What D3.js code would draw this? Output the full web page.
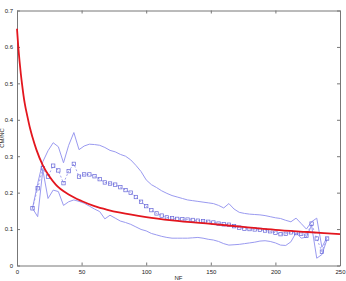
<!DOCTYPE html>
<html>
<head>
<meta charset="utf-8">
<script src="https://cdn.jsdelivr.net/npm/d3@7"></script>
<style>
body { margin:0; background:#fff; }
text { font-family: "Liberation Sans", Arial, sans-serif; }
</style>
</head>
<body>
<svg id="svg"></svg>
<script>
var Marge = {top:10.5, right:6, bottom:15.5, left:17};
var W = 346, H = 281;
var plotW = W - Marge.left - Marge.right, plotH = H - Marge.top - Marge.bottom;

// sample positions (NF) for the blue series
var nf = [12,16,20,24,28,32,36,40,44,48,52,56,60,64,68,72,76,80,84,88,92,96,100,104,108,112,116,120,
  124,128,132,136,140,144,148,152,156,160,164,168,172,176,180,184,188,192,196,200,204,208,212,216,220,224,228,232,236,240];
var meanVals = [0.157,0.212,0.267,0.244,0.274,0.261,0.226,0.259,0.279,0.244,0.25,0.25,0.245,0.237,0.228,0.225,0.222,0.215,0.207,0.200,0.188,0.175,0.163,0.152,0.143,0.137,0.132,0.130,
  0.128,0.127,0.126,0.125,0.123,0.122,0.120,0.118,0.115,0.113,0.112,0.108,0.104,0.101,0.100,0.099,0.098,0.096,0.094,0.090,0.086,0.087,0.091,0.089,0.087,0.082,0.115,0.074,0.038,0.074];
var upperVals = [0.157,0.225,0.285,0.315,0.337,0.326,0.282,0.33,0.365,0.318,0.328,0.333,0.332,0.33,0.324,0.316,0.312,0.305,0.300,0.290,0.275,0.258,0.235,0.222,0.214,0.205,0.198,0.192,
  0.188,0.184,0.180,0.178,0.176,0.174,0.172,0.170,0.165,0.158,0.170,0.155,0.146,0.143,0.141,0.140,0.139,0.137,0.134,0.131,0.129,0.124,0.120,0.130,0.115,0.100,0.120,0.130,0.050,0.078];
var lowerVals = [0.157,0.134,0.262,0.184,0.207,0.203,0.165,0.175,0.180,0.176,0.171,0.163,0.155,0.148,0.128,0.138,0.130,0.122,0.118,0.113,0.106,0.099,0.095,0.088,0.084,0.080,0.077,0.075,
  0.075,0.075,0.075,0.076,0.077,0.075,0.072,0.070,0.066,0.060,0.056,0.057,0.058,0.060,0.062,0.064,0.067,0.068,0.066,0.062,0.056,0.055,0.065,0.090,0.075,0.078,0.110,0.020,0.030,0.072];

// red fitted curve
var fitX = [0,1,2,3,4,5,6,8,10,12,15,20,25,30,40,50,60,70,80,100,120,150,175,200,225,250];
var fitY = [0.65,0.60,0.56,0.525,0.495,0.468,0.445,0.41,0.378,0.352,0.318,0.275,0.245,0.222,0.195,0.177,0.163,0.153,0.145,0.133,0.124,0.114,0.106,0.098,0.092,0.086];

var xTicks = [0,50,100,150,200,250];
var yTicks = [0,0.1,0.2,0.3,0.4,0.5,0.6,0.7];

var svg = d3.select("#svg").attr("width",W).attr("height",H);
var g = svg.append("g").attr("transform","translate("+Marge.left+","+Marge.top+")");

var x_scale = d3.scaleLinear().domain([0,250]).range([0,plotW]);
var y_scale = d3.scaleLinear().domain([0,0.7]).range([plotH,0]);

// axes (ticks inward, mirrored on top/right)
function styleAxis(sel){
  sel.select(".domain").attr("stroke","#777");
  sel.selectAll(".tick line").attr("stroke","#777");
  sel.selectAll("text").attr("font-size","6px").attr("fill","#222");
}
g.append("g").attr("transform","translate(0,"+plotH+")")
  .call(d3.axisBottom(x_scale).tickValues(xTicks).tickFormat(d3.format("d")).tickSizeInner(-3).tickSizeOuter(0).tickPadding(4))
  .call(styleAxis);
g.append("g")
  .call(d3.axisLeft(y_scale).tickValues(yTicks).tickFormat(function(d){return d===0?"0":d3.format(".1f")(d);}).tickSizeInner(-3).tickSizeOuter(0).tickPadding(4))
  .call(styleAxis);
g.append("g")
  .call(d3.axisTop(x_scale).tickValues(xTicks).tickFormat("").tickSizeInner(-3).tickSizeOuter(0))
  .call(styleAxis);
g.append("g").attr("transform","translate("+plotW+",0)")
  .call(d3.axisRight(y_scale).tickValues(yTicks).tickFormat("").tickSizeInner(-3).tickSizeOuter(0))
  .call(styleAxis);

var lineFunction = d3.line()
  .x(function(d){ return x_scale(d[0]); })
  .y(function(d){ return y_scale(d[1]); });

var upperData = nf.map(function(d,i){ return [d, upperVals[i]]; });
var lowerData = nf.map(function(d,i){ return [d, lowerVals[i]]; });
var meanData = nf.map(function(d,i){ return [d, meanVals[i]]; });
var fitData = fitX.map(function(d,i){ return [d, fitY[i]]; });

g.append("path").attr("d", lineFunction(upperData))
  .attr("stroke","#9a9af0").attr("stroke-width",1).attr("fill","none");
g.append("path").attr("d", lineFunction(lowerData))
  .attr("stroke","#9a9af0").attr("stroke-width",1).attr("fill","none");
g.append("path").attr("d", lineFunction(meanData))
  .attr("stroke","#8c8ce8").attr("stroke-width",0.8).attr("stroke-dasharray","2,2").attr("fill","none");

g.selectAll("rect.pt").data(meanData).enter().append("rect")
  .attr("class","pt")
  .attr("x",function(d){ return x_scale(d[0])-1.7; })
  .attr("y",function(d){ return y_scale(d[1])-1.7; })
  .attr("width",3.4).attr("height",3.4)
  .attr("fill","none").attr("stroke","#6464d8").attr("stroke-width",0.7);

g.append("path").attr("d", d3.line().curve(d3.curveMonotoneX)
    .x(function(d){ return x_scale(d[0]); })
    .y(function(d){ return y_scale(d[1]); })(fitData))
  .attr("stroke","#e3161e").attr("stroke-width",1.8).attr("fill","none");

// axis labels
svg.append("text").attr("x",Marge.left+plotW/2).attr("y",279.5)
  .attr("text-anchor","middle").attr("font-size","6px").attr("fill","#222").text("NF");
svg.append("text").attr("transform","translate(4,"+(Marge.top+plotH/2)+") rotate(-90)")
  .attr("text-anchor","middle").attr("font-size","6px").attr("fill","#222").text("CM/NC");
</script>
</body>
</html>
